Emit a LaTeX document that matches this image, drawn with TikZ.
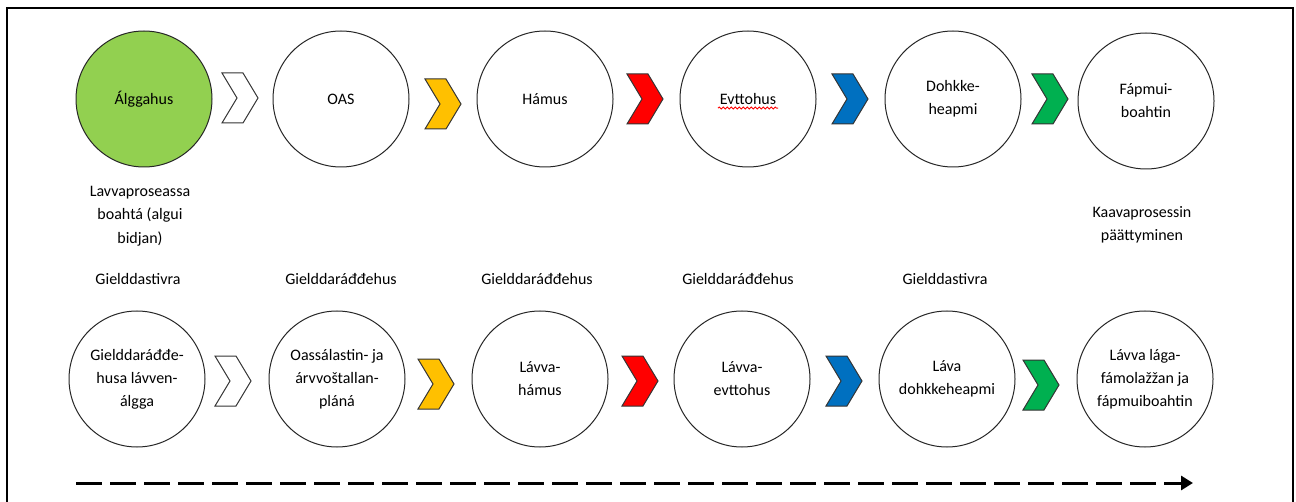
\documentclass[tikz,border=0pt]{standalone}
\usepackage{fontspec}
\setmainfont{Carlito}
\usetikzlibrary{arrows.meta,decorations.pathmorphing}
\definecolor{startgreen}{HTML}{92D050}
\definecolor{chevyellow}{HTML}{FFC000}
\definecolor{chevred}{HTML}{FF0000}
\definecolor{chevblue}{HTML}{0070C0}
\definecolor{chevgreen}{HTML}{00B050}
\tikzset{
  phase/.style={circle,draw=black!85,line width=0.5pt,minimum size=68pt,inner sep=0pt,
    align=center,font=\fontsize{8}{11.5}\selectfont},
  note/.style={align=center,inner sep=0pt,font=\fontsize{8}{11.75}\selectfont},
  chevron/.style={draw=black!80,line width=0.5pt}
}
\begin{document}
\begin{tikzpicture}[x=0.5pt,y=-0.5pt]
        \useasboundingbox (0,0) rectangle (1296,502);
        \clip (0,0) rectangle (1296,502);
        % frame
        \draw[line width=1.3pt] (7,520) |- (1293,8) -- (1293,520);
        % top row
        \node[phase,fill=startgreen] (a1) at (144,99) {Álggahus};
        \node[phase] (a2) at (341,99) {OAS};
        \node[phase] (a3) at (545,99) {Hámus};
        \node[phase] (a4) at (748,99) {Evttohus};
        \node[phase] (a5) at (953,99) {Dohkke-\\heapmi};
        \node[phase] (a6) at (1146,101) {Fápmui-\\boahtin};
        \draw[red,line width=0.45pt,decorate,decoration={snake,amplitude=0.5pt,segment length=2pt}]
          ([xshift=-15pt,yshift=-1.8pt]a4.base) -- ([xshift=15pt,yshift=-1.8pt]a4.base);
        % bottom row
        \node[phase] (b1) at (137,379) {Gielddaráđđe-\\husa lávven-\\álgga};
        \node[phase] (b2) at (337,379) {Oassálastin- ja\\árvvoštallan-\\pláná};
        \node[phase] (b3) at (540,379) {Lávva-\\hámus};
        \node[phase] (b4) at (742,379) {Lávva-\\evttohus};
        \node[phase] (b5) at (947,379) {Láva\\dohkkeheapmi};
        \node[phase] (b6) at (1145,379) {Lávva lága-\\fámolažžan ja\\fápmuiboahtin};
        % chevrons
        \foreach \cx/\cy/\col in {222/98/white,425/104/chevyellow,627/99/chevred,832/99/chevblue,1032/99/chevgreen,
                                  215/381/white,418/384/chevyellow,622/381/chevred,826/381/chevblue,1023/385/chevgreen}
          \filldraw[chevron,fill=\col] (\cx,\cy-25) -- ++(21,0) -- ++(15,25) -- ++(-15,25) -- ++(-21,0) -- ++(15,-25) -- cycle;
        % notes
        \node[note] (n1) at (140,216) {Lavvaproseassa\\boahtá (algui\\bidjan)};
        \node[note] (n6) at (1142,225) {Kaavaprosessin\\päättyminen};
        \node[note] (m1) at (138,279) {Gielddastivra};
        \node[note] (m2) at (341,279) {Gielddaráđđehus};
        \node[note] (m3) at (537,279) {Gielddaráđđehus};
        \node[note] (m4) at (738,279) {Gielddaráđđehus};
        \node[note] (m5) at (945,279) {Gielddastivra};
        % time line
        \coordinate (t0) at (76,483);
        \coordinate (t1) at (1193,483);
        \draw[line width=1.5pt,dash pattern=on 13pt off 4pt,-{Triangle[length=6pt,width=7pt]}] (t0) -- (t1);
    \end{tikzpicture}
\end{document}
